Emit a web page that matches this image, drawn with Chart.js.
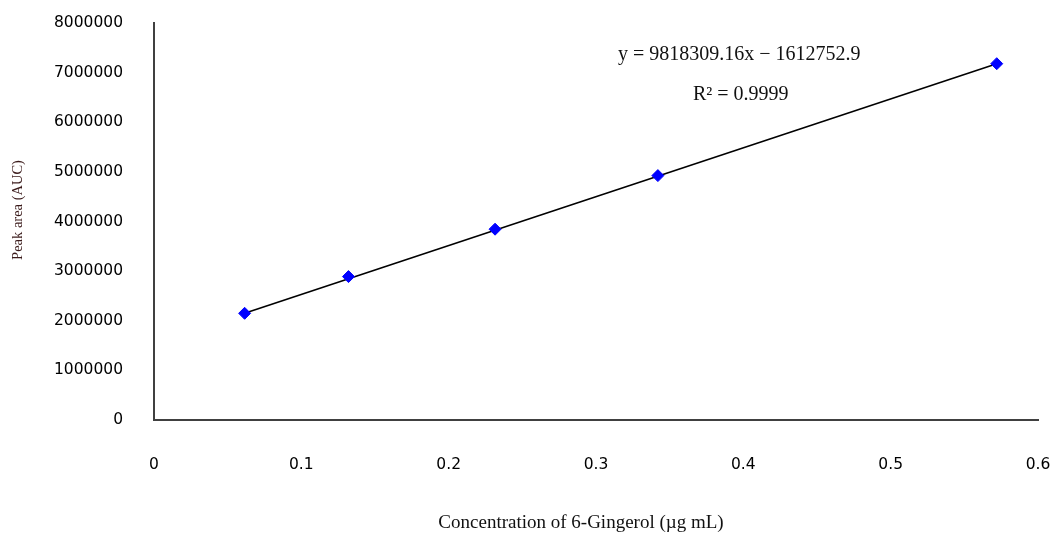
<!DOCTYPE html>
<html>
<head>
<meta charset="utf-8">
<script src="https://cdn.jsdelivr.net/npm/chart.js@4.4.0/dist/chart.umd.min.js"></script>
<style>
    html, body { margin: 0; padding: 0; background: #ffffff; }
    #wrap { width: 1054px; height: 535px; }
</style>
</head>
<body>
<div id="wrap"><canvas id="calib"></canvas></div>
<script>
// Calibration points
const concentrations = [0.0615, 0.132, 0.2315, 0.342, 0.572];
const peakAreas = [2150000, 2890000, 3845000, 4925000, 7180000];

// Trendline ends (first and last standard)
const trendX = [0.0615, 0.572];
const trendY = [2150000, 7180000];

const yTicks = [0, 1000000, 2000000, 3000000, 4000000, 5000000, 6000000, 7000000, 8000000];
const xTicks = [0, 0.1, 0.2, 0.3, 0.4, 0.5, 0.6];

const equationText = "y = 9818309.16x \u2212 1612752.9";
const r2Text = "R\u00B2 = 0.9999";
const xTitle = "Concentration of 6-Gingerol (\u00B5g mL)";
const yTitle = "Peak area (AUC)";

const serif = '"Liberation Serif", "Times New Roman", serif';

// draws axis titles and the regression text
const textPlugin = {
    id: "texts",
    afterDraw(chart) {
        const ctx = chart.ctx;
        ctx.save();
        ctx.fillStyle = "#111111";
        ctx.textBaseline = "middle";

        ctx.font = "20px " + serif;
        ctx.textAlign = "left";
        ctx.fillText(equationText, 618, 55);
        ctx.fillText(r2Text, 693, 95);

        ctx.textAlign = "center";
        ctx.font = "19px " + serif;
        ctx.fillText(xTitle, 581, 523);

        ctx.translate(18, 210);
        ctx.rotate(-Math.PI / 2);
        ctx.font = "14.5px " + serif;
        ctx.fillStyle = "#3a1a1a";
        ctx.fillText(yTitle, 0, 0);
        ctx.restore();
    }
};

function noPadding(axis) {
    axis.paddingTop = 0;
    axis.paddingBottom = 0;
    axis.paddingLeft = 0;
    axis.paddingRight = 0;
}

const ctx = document.getElementById("calib").getContext("2d");
new Chart(ctx, {
    type: "scatter",
    data: {
        datasets: [
            {
                label: "trend",
                type: "line",
                data: trendX.map((x, i) => ({ x: x, y: trendY[i] })),
                borderColor: "#000000",
                borderWidth: 1.6,
                pointRadius: 0,
                fill: false,
                order: 2
            },
            {
                label: "points",
                data: concentrations.map((x, i) => ({ x: x, y: peakAreas[i] })),
                backgroundColor: "#0000ff",
                borderColor: "#0000ff",
                borderWidth: 1,
                pointStyle: "rectRot",
                pointRadius: 6,
                order: 1
            }
        ]
    },
    options: {
        responsive: true,
        maintainAspectRatio: false,
        animation: false,
        layout: { padding: { top: 23, right: 16, left: 0, bottom: 0 } },
        plugins: {
            legend: { display: false },
            tooltip: { enabled: false }
        },
        scales: {
            x: {
                type: "linear",
                min: 0,
                max: 0.6,
                afterBuildTicks: axis => { axis.ticks = xTicks.map(v => ({ value: v })); },
                afterFit: axis => { axis.height = 115; noPadding(axis); },
                grid: { display: false },
                border: { display: true, color: "#404040", width: 2 },
                ticks: {
                    color: "#000000",
                    font: { family: '"DejaVu Sans", Verdana, sans-serif', size: 15.5 },
                    padding: 28,
                    maxRotation: 0,
                    callback: v => (v === 0 ? "0" : v.toFixed(1))
                }
            },
            y: {
                type: "linear",
                min: 0,
                max: 8000000,
                afterBuildTicks: axis => { axis.ticks = yTicks.map(v => ({ value: v })); },
                afterFit: axis => { axis.width = 154; noPadding(axis); },
                grid: { display: false },
                border: { display: true, color: "#404040", width: 2 },
                ticks: {
                    color: "#000000",
                    font: { family: '"DejaVu Sans", Verdana, sans-serif', size: 15.5 },
                    padding: 23,
                    callback: v => String(v)
                }
            }
        }
    },
    plugins: [textPlugin]
});
</script>
</body>
</html>
